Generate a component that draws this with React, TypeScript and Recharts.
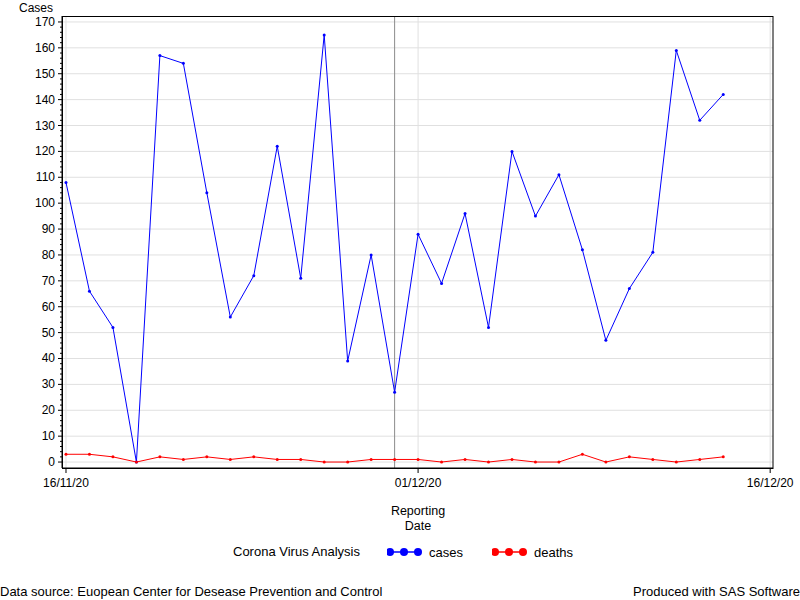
import React from "react";
import {
    LineChart,
    Line,
    XAxis,
    YAxis,
    CartesianGrid,
    ReferenceLine,
} from "recharts";

const dates = [
    "16/11/20", "17/11/20", "18/11/20", "19/11/20", "20/11/20", "21/11/20",
    "22/11/20", "23/11/20", "24/11/20", "25/11/20", "26/11/20", "27/11/20",
    "28/11/20", "29/11/20", "30/11/20", "01/12/20", "02/12/20", "03/12/20",
    "04/12/20", "05/12/20", "06/12/20", "07/12/20", "08/12/20", "09/12/20",
    "10/12/20", "11/12/20", "12/12/20", "13/12/20", "14/12/20",
];
const cases = [
    108, 66, 52, 0, 157, 154, 104, 56, 72, 122, 71, 165, 39, 80, 27,
    88, 69, 96, 52, 120, 95, 111, 82, 47, 67, 81, 159, 132, 142,
];
const deaths = [
    3, 3, 2, 0, 2, 1, 2, 1, 2, 1, 1, 0, 0, 1, 1,
    1, 0, 1, 0, 1, 0, 0, 3, 0, 2, 1, 0, 1, 2,
];
const xTickDays = [0, 15, 30];
const xTickLabels = ["16/11/20", "01/12/20", "16/12/20"];
const yMajorTicks = [0, 10, 20, 30, 40, 50, 60, 70, 80, 90, 100, 110, 120, 130, 140, 150, 160, 170];
const refDate = "30/11/20";

const data = dates.map((d, i) => ({ day: i, date: d, cases: cases[i], deaths: deaths[i] }));

// every 2 units gets a minor tick, every 10 a labelled major one
const yTicks: number[] = [];
for (let v = 0; v <= 170; v += 2) yTicks.push(v);

const FONT = "'Liberation Sans', Arial, sans-serif";

function YTick(props: any) {
    const { x, y, payload } = props;
    const major = payload.value % 10 === 0;
    return (
        <g>
            <line x1={x - (major ? 4 : 2)} x2={x} y1={y} y2={y} stroke="#000" />
            {major && (
                <text x={x - 7} y={y} textAnchor="end" dominantBaseline="central" fontSize={12} fill="#000" fontFamily={FONT}>
                    {payload.value}
                </text>
            )}
        </g>
    );
}

function LegendItem(props: { color: string; label: string; left: number }) {
    return (
        <svg style={{ position: "absolute", left: props.left, top: 544 }} width={120} height={16}>
            <line x1={3} x2={33} y1={8} y2={8} stroke={props.color} strokeWidth={1.5} />
            {[3, 17, 31].map((cx) => (
                <circle key={cx} cx={cx} cy={8} r={4} fill={props.color} />
            ))}
            <text x={42} y={8} dominantBaseline="central" fontSize={13} fontFamily={FONT} fill="#000">
                {props.label}
            </text>
        </svg>
    );
}

export default function App() {
    const text: React.CSSProperties = { position: "absolute", fontFamily: FONT, fontSize: 12, color: "#000", lineHeight: "14px", whiteSpace: "nowrap" };
    return (
        <div style={{ position: "absolute", left: 0, top: 0, width: 800, height: 600, background: "#fff" }}>
            <LineChart width={800} height={600} data={data} margin={{ top: 16, right: 27, left: 0, bottom: 102 }}>
                <CartesianGrid stroke="#e0e0e0" horizontalValues={yMajorTicks} verticalValues={xTickDays} />
                <XAxis
                    type="number"
                    dataKey="day"
                    domain={[-0.17, 30.12]}
                    allowDataOverflow
                    ticks={xTickDays}
                    interval={0}
                    height={30}
                    tickSize={5}
                    tickMargin={5}
                    stroke="#000"
                    tick={{ fontSize: 12, fill: "#000", fontFamily: FONT }}
                    tickFormatter={(v: number) => xTickLabels[xTickDays.indexOf(v)]}
                />
                <YAxis
                    domain={[-2.3, 172.3]}
                    allowDataOverflow
                    ticks={yTicks}
                    interval={0}
                    width={62}
                    tickSize={0}
                    tickMargin={0}
                    tickLine={false}
                    stroke="#000"
                    tick={<YTick />}
                />
                <ReferenceLine x={dates.indexOf(refDate)} stroke="#8c8c8c" />
                <Line
                    isAnimationActive={false}
                    type="linear"
                    dataKey="cases"
                    stroke="#0000ff"
                    strokeWidth={1}
                    dot={{ r: 1.5, fill: "#0000ff", stroke: "none" }}
                    activeDot={false}
                />
                <Line
                    isAnimationActive={false}
                    type="linear"
                    dataKey="deaths"
                    stroke="#ff0000"
                    strokeWidth={1}
                    dot={{ r: 1.5, fill: "#ff0000", stroke: "none" }}
                    activeDot={false}
                />
            </LineChart>
            <svg style={{ position: "absolute", left: 0, top: 0, pointerEvents: "none" }} width={800} height={600}>
                <rect x={62.5} y={16.5} width={710.5} height={452} fill="none" stroke="#000" />
            </svg>
            <div style={{ ...text, left: 19, top: 1 }}>Cases</div>
            <div style={{ ...text, left: 318, width: 200, top: 504, fontSize: 12.5, lineHeight: "15px", textAlign: "center" }}>
                Reporting
                <br />
                Date
            </div>
            <div style={{ ...text, left: 233, top: 545, fontSize: 13 }}>Corona Virus Analysis</div>
            <LegendItem color="#0000ff" label="cases" left={387} />
            <LegendItem color="#ff0000" label="deaths" left={492} />
            <div style={{ ...text, left: 0, top: 585, fontSize: 13 }}>Data source: Euopean Center for Desease Prevention and Control</div>
            <div style={{ ...text, right: 0, top: 585, fontSize: 13 }}>Produced with SAS Software</div>
        </div>
    );
}
